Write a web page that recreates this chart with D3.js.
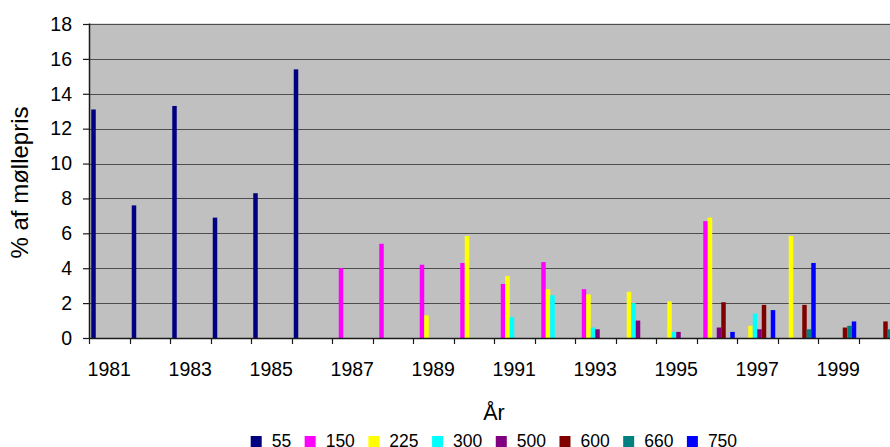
<!DOCTYPE html>
<html>
<head>
<meta charset="utf-8">
<script src="https://cdn.jsdelivr.net/npm/d3@7"></script>
<style>
  html, body { margin: 0; padding: 0; background: #fff; }
  svg { display: block; font-family: "Liberation Sans", Arial, sans-serif; }
</style>
</head>
<body>
<svg id="chart" width="890" height="447"></svg>
<script>
// ---- data ----
const years = ["1981","1982","1983","1984","1985","1986","1987","1988","1989","1990",
               "1991","1992","1993","1994","1995","1996","1997","1998","1999","2000"];
const seriesNames = ["55","150","225","300","500","600","660","750"];
const seriesColors = ["#000080","#FF00FF","#FFFF00","#00FFFF","#800080","#800000","#008080","#0000FF"];
const s55  = [13.1, 7.6, 13.3, 6.9, 8.3, 15.4, null, null, null, null, null, null, null, null, null, null, null, null, null, null];
const s150 = [null, null, null, null, null, null, 4.0, 5.4, 4.2, 4.3, 3.1, 4.35, 2.8, null, null, 6.7, null, null, null, null];
const s225 = [null, null, null, null, null, null, null, null, 1.3, 5.85, 3.55, 2.8, 2.5, 2.65, 2.1, 6.9, 0.7, 5.85, null, null];
const s300 = [null, null, null, null, null, null, null, null, null, null, 1.2, 2.45, 0.6, 2.0, 0.35, null, 1.4, null, null, null];
const s500 = [null, null, null, null, null, null, null, null, null, null, null, null, 0.5, 1.0, 0.35, 0.6, 0.5, null, null, null];
const s600 = [null, null, null, null, null, null, null, null, null, null, null, null, null, null, null, 2.05, 1.9, 1.9, 0.6, 0.95];
const s660 = [null, null, null, null, null, null, null, null, null, null, null, null, null, null, null, null, null, 0.5, 0.7, 0.5];
const s750 = [null, null, null, null, null, null, null, null, null, null, null, null, null, null, null, 0.35, 1.6, 4.3, 0.95, null];
const yTicks = [0, 2, 4, 6, 8, 10, 12, 14, 16, 18];
const xLabels = ["1981","1983","1985","1987","1989","1991","1993","1995","1997","1999"];
const yTitle = "% af møllepris";
const xTitle = "År";

const seriesValues = [s55, s150, s225, s300, s500, s600, s660, s750];

// ---- layout ----
const plotLeft = 89, plotRight = 899, plotTop = 23.5, plotBottom = 338;
const svg = d3.select("#chart");

const x0 = d3.scaleBand().domain(years).range([plotLeft, plotRight]).padding(0);
const x1 = d3.scaleBand().domain(seriesNames).range([0, x0.bandwidth()])
  .paddingInner(0).paddingOuter(0.5);
const y = d3.scaleLinear().domain([0, 18]).range([plotBottom, 24]);

// plot background
svg.append("rect")
  .attr("x", plotLeft).attr("y", plotTop)
  .attr("width", plotRight - plotLeft).attr("height", plotBottom - plotTop)
  .attr("fill", "#C0C0C0");

// gridlines
svg.append("g").selectAll("line")
  .data(yTicks.filter(d => d > 0))
  .join("line")
  .attr("x1", plotLeft).attr("x2", plotRight)
  .attr("y1", d => Math.round(y(d)) + 0.5).attr("y2", d => Math.round(y(d)) + 0.5)
  .attr("stroke", "#4d4d4d").attr("stroke-width", 1.2);

// bars
const flat = [];
seriesValues.forEach((vals, si) => {
  vals.forEach((v, yi) => {
    if (v != null) flat.push({ year: years[yi], series: seriesNames[si], color: seriesColors[si], value: v });
  });
});
svg.append("g").selectAll("rect")
  .data(flat)
  .join("rect")
  .attr("x", d => x0(d.year) + x1(d.series))
  .attr("width", x1.bandwidth())
  .attr("y", d => y(d.value))
  .attr("height", d => y(0) - y(d.value))
  .attr("fill", d => d.color);

// y axis
const yAxis = svg.append("g")
  .attr("transform", `translate(${plotLeft},0)`)
  .call(d3.axisLeft(y).tickValues(yTicks).tickSize(6).tickPadding(11).tickFormat(d3.format("d")));
yAxis.select(".domain").attr("stroke", "#1a1a1a").attr("stroke-width", 1.5)
  .attr("d", `M0.5,${plotTop}V${plotBottom}`);
yAxis.selectAll(".tick line").attr("stroke", "#1a1a1a").attr("stroke-width", 1.2);
yAxis.selectAll(".tick text").attr("font-size", "19.5px").attr("fill", "#000")
  .attr("font-family", "'Liberation Sans', Arial, sans-serif");

// x axis
const xAxis = svg.append("g")
  .attr("transform", `translate(0,${plotBottom})`)
  .call(d3.axisBottom(x0).tickSize(0).tickPadding(24)
    .tickFormat(d => xLabels.includes(d) ? d : ""));
xAxis.select(".domain").attr("stroke", "#1a1a1a").attr("stroke-width", 1.5);
xAxis.selectAll(".tick text").attr("font-size", "19.5px").attr("fill", "#000")
  .attr("font-family", "'Liberation Sans', Arial, sans-serif");
// category boundary ticks
xAxis.append("g").selectAll("line")
  .data(years)
  .join("line")
  .attr("x1", d => Math.round(x0(d)) + 0.5).attr("x2", d => Math.round(x0(d)) + 0.5)
  .attr("y1", 0).attr("y2", 6)
  .attr("stroke", "#1a1a1a").attr("stroke-width", 1.2);

// axis titles
svg.append("text")
  .attr("transform", "translate(28,182.5) rotate(-90)")
  .attr("text-anchor", "middle")
  .attr("font-size", "24px")
  .attr("fill", "#000")
  .text(yTitle);

svg.append("text")
  .attr("x", 494).attr("y", 420)
  .attr("text-anchor", "middle")
  .attr("font-size", "21.5px")
  .attr("fill", "#000")
  .text(xTitle);

// legend
const legend = svg.append("g");
let lx = 250.7;
seriesNames.forEach((name, i) => {
  legend.append("rect")
    .attr("x", lx).attr("y", 436)
    .attr("width", 11).attr("height", 11)
    .attr("fill", seriesColors[i]);
  const t = legend.append("text")
    .attr("x", lx + 21).attr("y", 447)
    .attr("font-size", "17.5px")
    .attr("fill", "#000")
    .text(name);
  lx = lx + 21 + t.node().getComputedTextLength() + 13.5;
});
</script>
</body>
</html>
